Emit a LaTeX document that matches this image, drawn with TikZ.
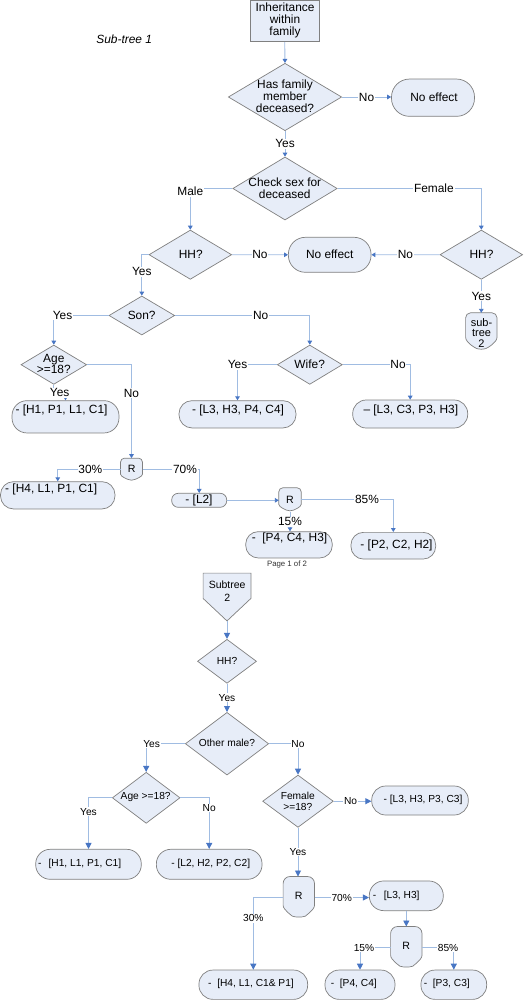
\documentclass[tikz,border=0pt]{standalone}
\usepackage{fontspec}
\setmainfont{Liberation Sans}
\usetikzlibrary{shapes.geometric,arrows.meta,calc}
\definecolor{fillblue}{RGB}{231,237,248}
\definecolor{bordergray}{RGB}{128,128,128}
\definecolor{connblue}{RGB}{160,188,226}
\definecolor{tipblue}{RGB}{72,118,196}
\newcommand\fontTop{\fontsize{11.9}{12}\selectfont}
\newcommand\fontAge{\fontsize{11.9}{11}\selectfont}
\newcommand\fontBot{\fontsize{10.2}{11.7}\selectfont}
\newcommand\fontSub{\fontsize{10.5}{12.3}\selectfont}
\newcommand\fontR{\fontsize{10.6}{12}\selectfont}
\newcommand\fontST{\fontsize{11}{10.5}\selectfont}
\newcommand\fontPage{\fontsize{7.8}{9}\selectfont}
\tikzset{
 shp/.style={draw=bordergray, fill=fillblue, line width=0.7pt, inner sep=0pt},
 dia/.style={shp, diamond},
 stad/.style={shp, rectangle},
 blank/.style={rectangle, inner sep=0pt, draw=none, fill=none},
 txt/.style={inner sep=0pt, align=center, text=black},
 conn/.style={draw=connblue, line width=0.9pt, -{Triangle[length=4pt,width=4.6pt,color=tipblue]}},
 connB/.style={draw=connblue, line width=0.9pt, -{Triangle[length=6pt,width=6pt,color=tipblue]}},
 lblA/.style={fill=white, inner sep=0.8pt, text=black, font=\fontTop},
 lblB/.style={fill=white, inner sep=0.8pt, text=black, font=\fontBot},
}
\newcommand\shieldshape[2]{%
 \draw[shp, rounded corners=#2] ($(#1.north west)!0.52!(#1.south west)$) -- (#1.north west) -- (#1.north east) -- ($(#1.north east)!0.52!(#1.south east)$)
  .. controls ($(#1.north east)!0.8!(#1.south east)$) and ($(#1.south)!0.35!(#1.south east)+(0pt,2pt)$) .. (#1.south)
  .. controls ($(#1.south)!0.35!(#1.south west)+(0pt,2pt)$) and ($(#1.north west)!0.8!(#1.south west)$) .. ($(#1.north west)!0.52!(#1.south west)$) -- cycle;}
\newcommand\pentshape[1]{%
 \draw[shp] (#1.north west) -- (#1.north east) -- ($(#1.north east)!0.53!(#1.south east)$) -- (#1.south) -- ($(#1.north west)!0.53!(#1.south west)$) -- cycle;}
\begin{document}
\begin{tikzpicture}[x=1pt,y=-1pt]
\fill[white] (0,0) rectangle (527,1000);
\useasboundingbox (0,0) rectangle (527,1000);
% ---------- top half ----------
\node[stad, minimum width=68.7pt, minimum height=41.2pt] (top) at (284.7,21.1) {};
\node[txt, font=\fontTop] (topt) at (285,20.3) {Inheritance\\within\\family};
\node[txt, font=\fontTop\itshape] (sub1) at (124.2,39) {Sub-tree 1};
\node[dia, minimum width=113.4pt, minimum height=67.4pt] (d1) at (285,97) {};
\node[txt, font=\fontTop] (d1t) at (285,96.7) {Has family\\member\\deceased?};
\node[stad, rounded corners=18pt, minimum width=83pt, minimum height=37.3pt] (ne1) at (433,97.7) {};
\node[txt, font=\fontTop] (ne1t) at (434,97) {No effect};
\node[dia, minimum width=104.4pt, minimum height=63pt] (d2) at (285,188.5) {};
\node[txt, font=\fontTop] (d2t) at (284.8,188.3) {Check sex for\\deceased};
\node[dia, minimum width=82.7pt, minimum height=49.3pt] (hhl) at (190.3,254.7) {};
\node[txt, font=\fontTop] (hhlt) at (190.8,254.7) {HH?};
\node[stad, rounded corners=17pt, minimum width=82.7pt, minimum height=35pt] (ne2) at (329.7,254.8) {};
\node[txt, font=\fontTop] (ne2t) at (329.7,254.7) {No effect};
\node[dia, minimum width=82.7pt, minimum height=49.3pt] (hhr) at (481.3,254.7) {};
\node[txt, font=\fontTop] (hhrt) at (481.5,254.7) {HH?};
\node[blank, minimum width=31pt, minimum height=37pt] (st1) at (481.3,331.5) {};
\shieldshape{st1}{5pt}
\node[txt, font=\fontST] (st1t) at (481.5,333) {sub-\\tree\\2};
\node[dia, minimum width=65.7pt, minimum height=39pt] (son) at (141.8,315.5) {};
\node[txt, font=\fontTop] (sont) at (141.7,315.3) {Son?};
\node[dia, minimum width=65pt, minimum height=39.3pt] (wife) at (309.8,364.7) {};
\node[txt, font=\fontTop] (wifet) at (309.7,364.7) {Wife?};
\node[dia, minimum width=65.7pt, minimum height=39.3pt] (agea) at (53.8,364.7) {};
\node[txt, font=\fontAge] (ageat) at (53.8,364.3) {Age\\>=18?};
\node[stad, rounded corners=15pt, minimum width=107pt, minimum height=32.3pt] (b1) at (65.5,416.8) {};
\node[txt, font=\fontTop] (b1t) at (61.5,410) {- [H1, P1, L1, C1]};
\node[stad, rounded corners=13pt, minimum width=117pt, minimum height=27.3pt] (b2) at (237.5,414.3) {};
\node[txt, font=\fontTop] (b2t) at (238,410) {- [L3, H3, P4, C4]};
\node[stad, rounded corners=13.5pt, minimum width=115pt, minimum height=28pt] (b3) at (410.2,414) {};
\node[txt, font=\fontTop] (b3t) at (410.8,410) {\textendash{} [L3, C3, P3, H3]};
\node[blank, minimum width=21.6pt, minimum height=22.7pt] (r1) at (131.5,469.7) {};
\shieldshape{r1}{4pt}
\node[txt, font=\fontR] (r1t) at (131.6,469.3) {R};
\node[stad, rounded corners=13pt, minimum width=114.5pt, minimum height=27.3pt] (b4) at (57.75,495.3) {};
\node[txt, font=\fontTop] (b4t) at (51.2,489.3) {- [H4, L1, P1, C1]};
\node[stad, rounded corners=6.5pt, minimum width=55pt, minimum height=14pt] (l2) at (199.2,500.3) {};
\node[txt, font=\fontTop] (l2t) at (199,500) {- [L2]};
\node[blank, minimum width=22pt, minimum height=23.7pt] (r2) at (290,499.85) {};
\shieldshape{r2}{4pt}
\node[txt, font=\fontR] (r2t) at (290,499.6) {R};
\node[stad, rounded corners=12.5pt, minimum width=86.6pt, minimum height=26.3pt] (b5) at (289,544.8) {};
\node[txt, font=\fontTop] (b5t) at (289.5,538) {- \ [P4, C4, H3]};
\node[stad, rounded corners=12.5pt, minimum width=84.7pt, minimum height=26.7pt] (b6) at (393.3,545.7) {};
\node[txt, font=\fontTop] (b6t) at (396.5,545) {- [P2, C2, H2]};
\node[txt, font=\fontPage, text=black!80] (page) at (287,564.7) {Page 1 of 2};
% top connectors
\draw[conn] (top.south) -- (d1.north);
\draw[conn] (d1.east) -- (d1.east -| ne1.west) node[lblA, midway] {No};
\draw[conn] (d1.south) -- (d2.north) node[lblA, midway] {Yes};
\draw[conn] (d2.west) -| node[lblA, pos=0.5, yshift=-3pt] {Male} (hhl.north);
\draw[conn] (d2.east) -| node[lblA, pos=0.335] {Female} (hhr.north);
\draw[conn] (hhl.east) -- (ne2.west) node[lblA, midway] {No};
\draw[conn] (hhr.west) -- (ne2.east) node[lblA, midway] {No};
\draw[conn] (hhl.west) -| node[lblA, pos=0.706] {Yes} (son.north);
\draw[conn] (hhr.south) -- (st1.north) node[lblA, midway] {Yes};
\draw[conn] (son.west) -| node[lblA, pos=0.42] {Yes} (agea.north);
\draw[conn] (son.east) -| node[lblA, pos=0.318] {No} (wife.north);
\draw[conn] (wife.west) -| node[lblA, pos=0.5] {Yes} (b2.north);
\draw[conn] (wife.east) -| node[lblA, pos=0.41] {No} (b3.north);
\draw[conn] (agea.south) -- ++(0,8) -| node[lblA, pos=0.25] {Yes} (b1.north);
\draw[conn] (agea.east) -| node[lblA, pos=0.653] {No} (r1.north);
\draw[conn] (r1.west) -| node[lblA, pos=0.24] {30\%} (b4.north);
\draw[conn] (r1.east) -| node[lblA, pos=0.375] {70\%} (l2.north);
\draw[conn] (l2.east) -- (l2.east -| r2.west);
\draw[conn] (r2.east) -| node[lblA, pos=0.357] {85\%} (b6.north);
\draw[conn] (r2.south) -- (r2.south |- b5.north) node[lblA, midway] {15\%};
% ---------- bottom half ----------
\node[blank, minimum width=47.4pt, minimum height=47.4pt] (st2) at (227,597) {};
\pentshape{st2}
\node[txt, font=\fontSub] (st2t) at (227.2,591.2) {Subtree\\2};
\node[dia, minimum width=59pt, minimum height=44pt] (hh2) at (227,661.3) {};
\node[txt, font=\fontBot] (hh2t) at (227,661) {HH?};
\node[dia, minimum width=83.3pt, minimum height=62.7pt] (om) at (227,743.7) {};
\node[txt, font=\fontBot] (omt) at (227,743.3) {Other male?};
\node[dia, minimum width=67.7pt, minimum height=51pt] (age2) at (146.2,797.8) {};
\node[txt, font=\fontBot] (age2t) at (145.7,797.3) {Age >=18?};
\node[dia, minimum width=70.7pt, minimum height=52.3pt] (fem) at (298,801.2) {};
\node[txt, font=\fontBot] (femt) at (297.8,801.2) {Female\\>=18?};
\node[stad, rounded corners=14pt, minimum width=96.6pt, minimum height=29pt] (b9) at (420,800.5) {};
\node[txt, font=\fontBot] (b9t) at (423,800) {- [L3, H3, P3, C3]};
\node[stad, rounded corners=14.5pt, minimum width=105.6pt, minimum height=30pt] (b7) at (88.5,864.3) {};
\node[txt, font=\fontBot] (b7t) at (79.7,864) {-\hspace{7pt}[H1, L1, P1, C1]};
\node[stad, rounded corners=14.5pt, minimum width=105.7pt, minimum height=30pt] (b8) at (209.2,864.3) {};
\node[txt, font=\fontBot] (b8t) at (210.7,864) {- [L2, H2, P2, C2]};
\node[blank, minimum width=31pt, minimum height=41.6pt] (r3) at (298.8,897.5) {};
\shieldshape{r3}{7pt}
\node[txt, font=\fontR] (r3t) at (298.7,896) {R};
\node[stad, rounded corners=14.5pt, minimum width=74pt, minimum height=29.7pt] (b10) at (406.3,895.8) {};
\node[txt, font=\fontBot] (b10t) at (396.2,896) {-\hspace{7.5pt}[L3, H3]};
\node[blank, minimum width=31pt, minimum height=41.6pt] (r4) at (406.3,947.5) {};
\shieldshape{r4}{7pt}
\node[txt, font=\fontR] (r4t) at (406.2,945.5) {R};
\node[stad, rounded corners=14pt, minimum width=108.7pt, minimum height=29.3pt] (b11) at (253.3,984.7) {};
\node[txt, font=\fontBot] (b11t) at (251,984) {- \ [H4, L1, C1\& P1]};
\node[stad, rounded corners=14pt, minimum width=70pt, minimum height=29.3pt] (b12) at (360,984.7) {};
\node[txt, font=\fontBot] (b12t) at (353.8,984) {- \ [P4, C4]};
\node[stad, rounded corners=14pt, minimum width=65.7pt, minimum height=29.3pt] (b13) at (453.8,984.7) {};
\node[txt, font=\fontBot] (b13t) at (446.8,984) {- \ [P3, C3]};
% bottom connectors
\draw[connB] (st2.south) -- (st2.south |- hh2.north);
\draw[connB] (hh2.south) -- (om.north) node[lblB, midway] {Yes};
\draw[connB] (om.west) -| node[lblB, pos=0.43] {Yes} (age2.north);
\draw[connB] (om.east) -| node[lblB, pos=0.5] {No} (fem.north);
\draw[connB] (age2.west) -| node[lblB, pos=0.635] {Yes} (b7.north);
\draw[connB] (age2.east) -| node[lblB, pos=0.6] {No} (b8.north);
\draw[connB] (fem.east) -- (fem.east -| b9.west) node[lblB, pos=0.45] {No};
\draw[connB] (fem.south) -- (fem.south |- r3.north) node[lblB, midway] {Yes};
\draw[connB] (r3.east) -- (r3.east -| b10.west) node[lblB, midway] {70\%};
\draw[connB] (r3.west) -| node[lblB, pos=0.643] {30\%} (b11.north);
\draw[connB] (b10.south) -- (b10.south |- r4.north);
\draw[connB] (r4.west) -| node[lblB, pos=0.435] {15\%} (b12.north);
\draw[connB] (r4.east) -| node[lblB, pos=0.41] {85\%} (b13.north);
\end{tikzpicture}
\end{document}
